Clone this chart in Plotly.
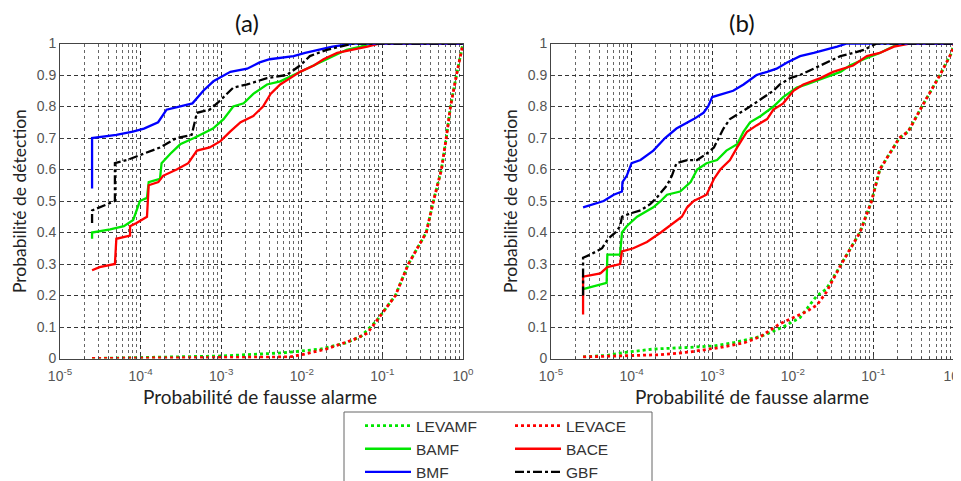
import plotly.graph_objects as go

# ---- panel (a) ----
a_levamf_x = [2.5e-5, 3e-4, 1e-3, 5.9e-3, 1.7e-2, 3.6e-2, 5.4e-2, 8.5e-2, 0.145, 0.21, 0.35, 0.43, 0.54, 0.62, 0.70, 0.83, 0.97, 1]
a_levamf_y = [0.0, 0.005, 0.008, 0.018, 0.03, 0.05, 0.07, 0.12, 0.20, 0.30, 0.40, 0.50, 0.60, 0.70, 0.80, 0.90, 0.98, 1.0]
a_levace_x = [2.5e-5, 1e-3, 7e-3, 1e-2, 2e-2, 4.4e-2, 6.5e-2, 8.5e-2, 0.145, 0.21, 0.35, 0.43, 0.54, 0.62, 0.70, 0.83, 0.97, 1]
a_levace_y = [0.0, 0.002, 0.005, 0.012, 0.03, 0.06, 0.08, 0.12, 0.20, 0.30, 0.40, 0.50, 0.60, 0.70, 0.80, 0.90, 0.98, 1.0]
a_bamf_x = [2.5e-5, 2.5e-5, 4.2e-5, 6.2e-5, 8.1e-5, 9.8e-5, 1.2e-4, 1.26e-4, 1.74e-4, 1.82e-4, 2.34e-4, 3.1e-4, 4.6e-4,
            6.6e-4, 7.9e-4, 1.07e-3, 1.41e-3, 1.9e-3, 2.5e-3, 3.7e-3, 5.4e-3, 7.9e-3, 1.15e-2, 1.7e-2, 2.45e-2,
            3.6e-2, 5.4e-2, 7.1e-2, 1]
a_bamf_y = [0.38, 0.40, 0.41, 0.42, 0.44, 0.50, 0.51, 0.56, 0.57, 0.62, 0.65, 0.68, 0.70, 0.72, 0.73, 0.76, 0.80,
            0.81, 0.84, 0.87, 0.88, 0.90, 0.92, 0.94, 0.96, 0.98, 0.99, 1.0, 1.0]
a_bace_x = [2.5e-5, 3.1e-5, 4.8e-5, 5e-5, 7.4e-5, 7.4e-5, 8.9e-5, 1.2e-4, 1.26e-4, 1.66e-4, 1.9e-4, 2.8e-4, 3.9e-4,
            5e-4, 7.2e-4, 9.8e-4, 1.29e-3, 1.74e-3, 2.5e-3, 3.3e-3, 4.1e-3, 5.4e-3, 7.2e-3, 9.5e-3, 1.41e-2,
            1.86e-2, 2.75e-2, 4.4e-2, 6.5e-2, 9.3e-2, 1]
a_bace_y = [0.28, 0.29, 0.30, 0.38, 0.39, 0.42, 0.43, 0.45, 0.55, 0.56, 0.58, 0.60, 0.62, 0.66, 0.67, 0.69, 0.72,
            0.75, 0.77, 0.80, 0.84, 0.87, 0.89, 0.91, 0.93, 0.95, 0.97, 0.98, 0.99, 1.0, 1.0]
a_bmf_x = [2.5e-5, 2.5e-5, 5e-5, 8e-5, 1.1e-4, 1.65e-4, 2.1e-4, 3.1e-4, 4.4e-4, 6e-4, 8e-4, 1.3e-3, 2.1e-3, 3e-3,
           4e-3, 7.9e-3, 1.1e-2, 2.4e-2, 4.4e-2, 1]
a_bmf_y = [0.54, 0.70, 0.71, 0.72, 0.73, 0.75, 0.79, 0.80, 0.81, 0.85, 0.88, 0.91, 0.92, 0.94, 0.95, 0.96, 0.97,
           0.99, 1.0, 1.0]
a_gbf_x = [2.5e-5, 2.5e-5, 4.8e-5, 4.8e-5, 6.8e-5, 1.07e-4, 1.74e-4, 2.8e-4, 4.3e-4, 5e-4, 7.2e-4, 9.8e-4,
           1.41e-3, 2.1e-3, 3.7e-3, 6.5e-3, 9.5e-3, 1.26e-2, 2.04e-2, 3e-2, 4.4e-2, 1]
a_gbf_y = [0.43, 0.47, 0.50, 0.62, 0.63, 0.65, 0.67, 0.70, 0.71, 0.78, 0.79, 0.82, 0.86, 0.87, 0.89, 0.90, 0.93,
           0.96, 0.98, 0.99, 1.0, 1.0]

# ---- panel (b) ----
b_levamf_x = [2.5e-5, 5e-5, 8.7e-5, 1.86e-4, 4.9e-4, 1.05e-3, 1.82e-3, 4e-3, 7.6e-3, 1.23e-2, 2e-2, 2.6e-2, 4e-2,
              6.8e-2, 9.5e-2, 0.12, 0.21, 0.27, 0.40, 0.67, 0.93, 1]
b_levamf_y = [0.005, 0.01, 0.02, 0.03, 0.035, 0.04, 0.05, 0.07, 0.10, 0.13, 0.20, 0.22, 0.30, 0.40, 0.50, 0.60,
              0.70, 0.72, 0.80, 0.90, 0.97, 1.0]
b_levace_x = [2.5e-5, 1e-4, 2.3e-4, 5e-4, 1.26e-3, 2.5e-3, 4e-3, 6.9e-3, 1e-2, 1.5e-2, 2e-2, 2.6e-2, 4e-2, 6.8e-2,
              9.5e-2, 0.12, 0.21, 0.27, 0.40, 0.67, 0.93, 1]
b_levace_y = [0.005, 0.008, 0.012, 0.02, 0.035, 0.05, 0.07, 0.11, 0.13, 0.15, 0.17, 0.21, 0.30, 0.40, 0.50, 0.60,
              0.70, 0.72, 0.80, 0.90, 0.97, 1.0]
b_bamf_x = [2.5e-5, 3.4e-5, 4.9e-5, 5e-5, 7.2e-5, 7.6e-5, 8.7e-5, 1.17e-4, 1.86e-4, 2.3e-4, 2.75e-4, 4e-4, 5.4e-4,
            6.5e-4, 8.5e-4, 1.15e-3, 1.5e-3, 2.04e-3, 2.45e-3, 2.95e-3, 4e-3, 5.75e-3, 7.6e-3, 1.12e-2, 1.48e-2,
            2.4e-2, 3.9e-2, 5.1e-2, 7.6e-2, 0.12, 0.18, 0.21, 1]
b_bamf_y = [0.22, 0.23, 0.24, 0.33, 0.33, 0.40, 0.42, 0.45, 0.48, 0.50, 0.52, 0.53, 0.56, 0.60, 0.62, 0.63, 0.66,
            0.68, 0.72, 0.75, 0.77, 0.80, 0.83, 0.86, 0.87, 0.89, 0.91, 0.93, 0.95, 0.97, 0.99, 1.0, 1.0]
b_bace_x = [2.5e-5, 2.5e-5, 4.1e-5, 5e-5, 7.2e-5, 7.6e-5, 1.05e-4, 1.55e-4, 2.3e-4, 3.3e-4, 4.2e-4, 4.9e-4, 5.9e-4,
            8.5e-4, 1.05e-3, 1.26e-3, 1.66e-3, 2.04e-3, 2.7e-3, 3.55e-3, 4.8e-3, 5.75e-3, 7.6e-3, 1.02e-2, 1.35e-2,
            2.2e-2, 3.16e-2, 5.6e-2, 8.3e-2, 0.12, 0.18, 0.28, 1]
b_bace_y = [0.14, 0.26, 0.27, 0.29, 0.30, 0.34, 0.35, 0.37, 0.40, 0.43, 0.45, 0.48, 0.50, 0.52, 0.57, 0.60, 0.63,
            0.67, 0.72, 0.74, 0.76, 0.79, 0.81, 0.85, 0.87, 0.89, 0.91, 0.93, 0.96, 0.97, 0.99, 1.0, 1.0]
b_bmf_x = [2.5e-5, 3.4e-5, 4.5e-5, 6e-5, 7.6e-5, 7.7e-5, 8.7e-5, 1e-4, 1.29e-4, 1.86e-4, 2.6e-4, 3.6e-4, 5.9e-4,
           7.8e-4, 8.9e-4, 1e-3, 1.38e-3, 1.82e-3, 2.45e-3, 3.55e-3, 4.8e-3, 6.3e-3, 8.5e-3, 1.23e-2, 1.82e-2,
           2.6e-2, 3.55e-2, 4.7e-2, 1]
b_bmf_y = [0.48, 0.49, 0.50, 0.52, 0.53, 0.56, 0.58, 0.62, 0.63, 0.66, 0.70, 0.73, 0.76, 0.78, 0.80, 0.83, 0.84,
           0.85, 0.87, 0.90, 0.91, 0.92, 0.94, 0.96, 0.97, 0.98, 0.99, 1.0, 1.0]
b_gbf_x = [2.5e-5, 2.5e-5, 3.1e-5, 4.3e-5, 5.1e-5, 6.3e-5, 7.2e-5, 7.6e-5, 9.5e-5, 1.29e-4, 1.7e-4, 2.04e-4,
           2.75e-4, 3.16e-4, 3.6e-4, 4.9e-4, 6.5e-4, 8.5e-4, 1.05e-3, 1.2e-3, 1.38e-3, 1.66e-3, 2.24e-3, 2.95e-3,
           4.4e-3, 5.75e-3, 6.9e-3, 9.3e-3, 1.23e-2, 1.82e-2, 2.6e-2, 3.9e-2, 5.6e-2, 7.6e-2, 0.11, 1]
b_gbf_y = [0.20, 0.32, 0.33, 0.35, 0.38, 0.40, 0.42, 0.45, 0.46, 0.47, 0.49, 0.51, 0.55, 0.58, 0.62, 0.63, 0.63,
           0.65, 0.67, 0.70, 0.73, 0.76, 0.78, 0.80, 0.83, 0.85, 0.87, 0.89, 0.90, 0.92, 0.94, 0.96, 0.97, 0.98,
           1.0, 1.0]

names = ["LEVAMF", "LEVACE", "BAMF", "BACE", "BMF", "GBF"]
colors = ["#00e600", "#ff0000", "#00e600", "#ff0000", "#0000ff", "#000000"]
dashes = ["dot", "dot", "solid", "solid", "solid", "dashdot"]
legend_of = ["legend", "legend2", "legend", "legend2", "legend", "legend2"]

panels = [
    [(a_levamf_x, a_levamf_y), (a_levace_x, a_levace_y), (a_bamf_x, a_bamf_y),
     (a_bace_x, a_bace_y), (a_bmf_x, a_bmf_y), (a_gbf_x, a_gbf_y)],
    [(b_levamf_x, b_levamf_y), (b_levace_x, b_levace_y), (b_bamf_x, b_bamf_y),
     (b_bace_x, b_bace_y), (b_bmf_x, b_bmf_y), (b_gbf_x, b_gbf_y)],
]

fig = go.Figure()
for p, series in enumerate(panels):
    xa = "x" if p == 0 else "x2"
    ya = "y" if p == 0 else "y2"
    for i, (xs, ys) in enumerate(series):
        fig.add_trace(go.Scatter(
            x=xs, y=ys, mode="lines", name=names[i], xaxis=xa, yaxis=ya,
            line=dict(color=colors[i], dash=dashes[i], width=2.8 if dashes[i] == "dot" else 2.3),
            showlegend=(p == 0), legend=legend_of[i],
        ))

tick_font = dict(family="Liberation Sans, Arial", size=14, color="#555")
xticks = [1e-5, 1e-4, 1e-3, 1e-2, 1e-1, 1]
xtext = ["10<sup>-5</sup>", "10<sup>-4</sup>", "10<sup>-3</sup>", "10<sup>-2</sup>", "10<sup>-1</sup>", "10<sup>0</sup>"]
minor_vals = [m * d for d in xticks[:-1] for m in range(2, 10)]

xcommon = dict(
    type="log", range=[-5, 0], tickmode="array", tickvals=xticks, ticktext=xtext,
    showline=True, mirror=True, linecolor="#444", linewidth=1,
    ticks="inside", ticklen=4, tickcolor="#444", tickfont=tick_font,
    ticklabelstandoff=5, ticklabeloverflow="allow",
    showgrid=True, gridcolor="#333", gridwidth=1, griddash="4px,3px",
    minor=dict(tickmode="array", tickvals=minor_vals, showgrid=True, gridcolor="#666",
               gridwidth=1, griddash="dot", ticks="inside", ticklen=2, tickcolor="#444"),
    zeroline=False, automargin=False,
)
ycommon = dict(
    range=[0, 1], dtick=0.1, tick0=0,
    showline=True, mirror=True, linecolor="#444", linewidth=1,
    ticks="inside", ticklen=4, tickcolor="#444", tickfont=tick_font,
    showgrid=True, gridcolor="#333", gridwidth=1, griddash="4px,3px", zeroline=False,
    automargin=False,
)

# the page body has an 8px margin, so the figure is drawn 8px in from the window corner
OFF = 8
W, H = 961 - OFF, 481 - OFF


def px(x):
    return (x - OFF) / W


def py(y):
    return 1 - (y - OFF) / H


ax_a = (px(60), px(463))
ax_b = (px(551), px(954))
ydom = (py(358.5), py(43.5))
leg_font = dict(family="Liberation Sans, Arial", size=15.5, color="#333")

fig.update_layout(
    width=W, height=H,
    margin=dict(l=0, r=0, t=0, b=0, autoexpand=False),
    paper_bgcolor="white", plot_bgcolor="white",
    xaxis=dict(domain=ax_a, anchor="y", **xcommon),
    yaxis=dict(domain=ydom, anchor="x", **ycommon),
    xaxis2=dict(domain=ax_b, anchor="y2", **xcommon),
    yaxis2=dict(domain=ydom, anchor="x2", **ycommon),
    legend=dict(x=px(360), y=py(409), xanchor="left", yanchor="top", itemwidth=46,
                bgcolor="rgba(0,0,0,0)", font=leg_font, tracegroupgap=0),
    legend2=dict(x=px(510), y=py(409), xanchor="left", yanchor="top", itemwidth=46,
                 bgcolor="rgba(0,0,0,0)", font=leg_font, tracegroupgap=0),
    shapes=[dict(type="rect", xref="paper", yref="paper", x0=px(344), x1=px(652),
                 y0=py(490), y1=py(412), line=dict(color="#666", width=1))],
)

title_font = dict(family="Lato, Open Sans", size=24, color="#111")
xlabel_font = dict(family="Lato, Open Sans", size=19, color="#222")
ylabel_font = dict(family="Lato, Open Sans", size=17.5, color="#222")
for dom, lab, tx in [(ax_a, "(a)", 247), (ax_b, "(b)", 742)]:
    cx = (dom[0] + dom[1]) / 2
    fig.add_annotation(x=px(tx), y=py(22), xref="paper", yref="paper", text=lab,
                       xanchor="center", yanchor="middle", showarrow=False, font=title_font)
    fig.add_annotation(x=cx - 1 / W, y=py(396), xref="paper", yref="paper",
                       xanchor="center", yanchor="middle",
                       text="Probabilité de fausse alarme", showarrow=False, font=xlabel_font)
    fig.add_annotation(x=dom[0] - 40 / W, y=(ydom[0] + ydom[1]) / 2, xref="paper", yref="paper",
                       xanchor="center", yanchor="middle",
                       text="Probabilité de détection", textangle=-90, showarrow=False, font=ylabel_font)

fig.write_html("out.html")
